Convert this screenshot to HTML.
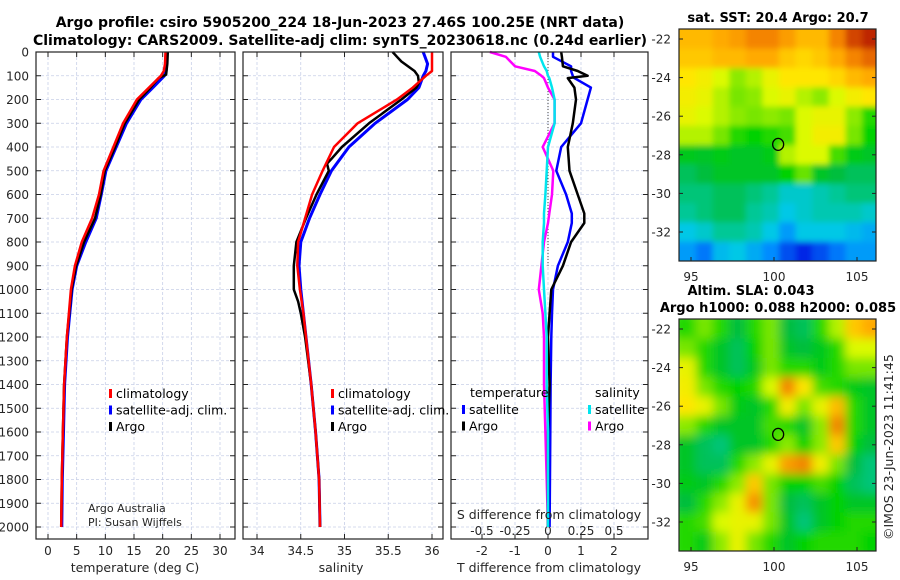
<!DOCTYPE html>
<html><head><meta charset="utf-8"><style>
html,body{margin:0;padding:0;background:#fff;}
svg{display:block;font-family:"DejaVu Sans","Liberation Sans",sans-serif;}
.tk{font-size:12px;fill:#262626;}
.tt{font-size:14px;font-weight:bold;fill:#000;}
.lg{font-size:12.5px;fill:#000;}
</style></head><body>
<svg id="fig" width="900" height="580" viewBox="0 0 900 580" xmlns="http://www.w3.org/2000/svg">
<text class="tt" x="340" y="27" text-anchor="middle">Argo profile: csiro 5905200_224 18-Jun-2023 27.46S 100.25E (NRT data)</text>
<text class="tt" x="340" y="45" text-anchor="middle">Climatology: CARS2009. Satellite-adj clim: synTS_20230618.nc (0.24d earlier)</text>
<g id="g1"></g>
<g id="g2"></g>
<g id="g3"></g>
<g id="m1"></g>
<g id="m2"></g>
<text class="tk" x="88" y="512" style="font-size:11px">Argo Australia</text>
<text class="tk" x="88" y="526" style="font-size:11px">PI: Susan Wijffels</text>
<text class="tk" x="893" y="540" transform="rotate(-90 893 540)" style="font-size:12.5px">©IMOS 23-Jun-2023 11:41:45</text>
</svg>
<script>
// ---------- data ----------
const depthT = [0,50,80,100,150,200,300,400,500,600,700,800,900,1000,1200,1400,1600,1800,2000];
const tClim  = [20.5,20.4,20.2,19.7,17.6,15.5,13.1,11.4,9.7,8.9,7.7,5.9,4.7,4.0,3.3,2.8,2.6,2.4,2.3];
const tSat   = [20.7,20.7,20.6,20.3,18.3,16.2,13.7,11.9,10.1,9.3,8.4,6.6,5.0,4.2,3.4,2.9,2.7,2.5,2.4];
const depthArgoT = [0,50,95,110,150,200,300,400,500,600,700,800,900,1000,1200,1400,1600,1800,2000];
const tArgo  = [20.9,20.8,20.6,19.3,17.9,15.9,13.4,11.7,9.9,9.2,8.2,6.3,4.9,4.1,3.3,2.8,2.6,2.4,2.3];
const depthS = [0,50,80,100,150,200,300,400,500,600,700,800,900,1000,1100,1200,1400,1600,1800,2000];
const sClim  = [36.0,36.0,36.0,35.93,35.78,35.6,35.15,34.88,34.75,34.63,34.55,34.47,34.46,34.49,34.53,34.56,34.62,34.67,34.71,34.72];
const sSat   = [35.9,35.95,35.93,35.9,35.85,35.72,35.35,35.05,34.85,34.72,34.6,34.5,34.48,34.5,34.53,34.56,34.62,34.67,34.71,34.72];
const depthArgoS = [0,20,40,80,100,130,150,200,300,400,450,470,500,600,700,800,900,1000,1050,1100,1200,1400,1600,1800,2000];
const sArgo  = [35.55,35.6,35.65,35.8,35.84,35.85,35.82,35.65,35.28,34.97,34.85,34.8,34.82,34.68,34.56,34.45,34.42,34.42,34.47,34.5,34.55,34.62,34.67,34.71,34.72];
const depthD = [0,20,60,80,100,110,150,200,300,400,500,600,680,720,800,900,1000,1100,1200,1400,1600,2000];
const dTSat  = [0.15,0.15,0.7,0.7,0.75,0.8,1.3,1.2,1.0,0.4,0.25,0.55,0.72,0.72,0.6,0.3,0.15,0.12,0.1,0.08,0.07,0.05];
const dTArgo = [0.4,0.42,0.45,0.9,1.2,0.6,0.8,0.85,0.75,0.6,0.65,0.9,1.1,1.1,0.7,0.45,0.1,0.05,0.0,0.05,0.0,0.0];
const dSSat  = [-0.07,-0.06,-0.03,-0.01,0.0,0.01,0.03,0.05,0.05,0.0,-0.01,-0.02,-0.03,-0.03,-0.04,-0.04,-0.03,-0.02,-0.01,-0.01,0.0,0.0];
const dSArgo = [-0.44,-0.32,-0.25,-0.1,-0.05,-0.03,0.0,0.05,0.05,-0.04,0.04,0.03,0.01,0.0,-0.03,-0.05,-0.07,-0.04,-0.03,-0.03,-0.02,0.0];
const depthTicks = [0,100,200,300,400,500,600,700,800,900,1000,1100,1200,1300,1400,1500,1600,1700,1800,1900,2000];
const tTicks = [0,5,10,15,20,25,30];
const sTicks = [34,34.5,35,35.5,36];
const sTickLabels = ["34","34.5","35","35.5","36"];
const dTTicks = [-2,-1,0,1,2];
const dSTicks = [-0.5,-0.25,0,0.25,0.5];
const dSTickLabels = ["-0.5","-0.25","0","0.25","0.5"];
const lonTicks = [95,100,105];
const latTicks = [-22,-24,-26,-28,-30,-32];
const sstGrid = [
[0.72,0.72,0.74,0.76,0.8,0.8,0.76,0.72,0.72,0.8,0.88,0.92],
[0.7,0.7,0.72,0.72,0.74,0.74,0.7,0.68,0.7,0.74,0.8,0.84],
[0.66,0.64,0.6,0.56,0.58,0.62,0.66,0.66,0.66,0.68,0.72,0.74],
[0.64,0.62,0.58,0.55,0.56,0.6,0.62,0.58,0.56,0.6,0.64,0.66],
[0.62,0.6,0.58,0.56,0.55,0.56,0.55,0.6,0.62,0.62,0.56,0.5],
[0.58,0.58,0.55,0.5,0.48,0.5,0.52,0.6,0.64,0.64,0.55,0.48],
[0.45,0.44,0.46,0.44,0.44,0.46,0.58,0.6,0.6,0.52,0.46,0.44],
[0.4,0.42,0.44,0.44,0.44,0.44,0.48,0.54,0.44,0.42,0.4,0.4],
[0.38,0.38,0.4,0.4,0.38,0.36,0.32,0.32,0.34,0.36,0.38,0.38],
[0.36,0.38,0.4,0.4,0.36,0.34,0.3,0.32,0.34,0.34,0.34,0.32],
[0.3,0.32,0.36,0.36,0.34,0.3,0.24,0.3,0.3,0.3,0.28,0.26],
[0.24,0.2,0.28,0.3,0.26,0.22,0.16,0.12,0.16,0.2,0.24,0.24]];
const slaGrid = [
[0.5,0.55,0.5,0.42,0.5,0.55,0.42,0.4,0.5,0.58,0.7,0.74],
[0.55,0.5,0.44,0.4,0.48,0.55,0.44,0.42,0.45,0.5,0.6,0.6],
[0.62,0.5,0.44,0.4,0.45,0.55,0.5,0.5,0.46,0.5,0.55,0.55],
[0.64,0.55,0.5,0.48,0.5,0.6,0.8,0.66,0.52,0.5,0.46,0.44],
[0.66,0.62,0.55,0.46,0.44,0.5,0.64,0.55,0.62,0.72,0.5,0.44],
[0.56,0.5,0.44,0.44,0.44,0.52,0.5,0.44,0.56,0.8,0.5,0.44],
[0.44,0.4,0.38,0.44,0.44,0.5,0.56,0.48,0.56,0.7,0.48,0.42],
[0.44,0.4,0.4,0.5,0.56,0.62,0.76,0.8,0.64,0.55,0.42,0.38],
[0.46,0.44,0.5,0.56,0.7,0.55,0.48,0.48,0.52,0.48,0.4,0.38],
[0.42,0.5,0.56,0.62,0.78,0.55,0.42,0.4,0.44,0.48,0.44,0.44],
[0.5,0.52,0.6,0.62,0.62,0.55,0.44,0.38,0.44,0.48,0.5,0.5],
[0.5,0.46,0.56,0.62,0.55,0.5,0.44,0.48,0.5,0.5,0.5,0.48]];
const argoLon = 100.25, argoLat = -27.46;

// ---------- helpers ----------
const NS="http://www.w3.org/2000/svg";
function mk(tag, attrs, parent){const e=document.createElementNS(NS,tag);for(const k in attrs)e.setAttribute(k,attrs[k]);parent.appendChild(e);return e;}
const Y0=52, Y1=539;
const yD = d => 52 + d*(527-52)/2000;
const xT = v => 48 + v*(220-48)/30;
const xS = v => 257 + (v-34)*(432-257)/2;
const xDT = v => 548 + v*33;
const xDS = v => 548 + v*132;

function frame(g, x0, x1, leftLabels){
  depthTicks.forEach(d=>{const y=yD(d);
    const l=mk('line',{x1:x0,x2:x1,y1:y,y2:y,stroke:'#c8cfe8','stroke-width':0.8,'stroke-dasharray':'3,2'},g);
    
    
    mk('line',{x1:x0,x2:x0+5,y1:y,y2:y,stroke:'#222'},g);
    mk('line',{x1:x1-5,x2:x1,y1:y,y2:y,stroke:'#222'},g);
    if(leftLabels){const t=mk('text',{x:x0-7,y:y+4.5,'text-anchor':'end',class:'tk'},g);t.textContent=d;
      
      }
  });
}
function xgrid(g, xs, labels, fn, ylab, x0, x1){
  xs.forEach((v,i)=>{const x=fn(v);
    mk('line',{x1:x,x2:x,y1:Y0,y2:Y1,stroke:'#c8cfe8','stroke-width':0.8,'stroke-dasharray':'3,2'},g);
    mk('line',{x1:x,x2:x,y1:Y1-5,y2:Y1,stroke:'#222'},g);
    mk('line',{x1:x,x2:x,y1:Y0,y2:Y0+5,stroke:'#222'},g);
    const t=mk('text',{x:x,y:ylab,'text-anchor':'middle',class:'tk'},g);t.textContent=labels?labels[i]:v;
    
    
  });
}
function border(g,x0,x1){const r=mk('rect',{x:x0,y:Y0,width:x1-x0,height:Y1-Y0,fill:'none',stroke:'#222','stroke-width':1.2},g);
  
  }
function line(g, vals, depths, fx, color, w, name){
  const pts=vals.map((v,i)=>fx(v).toFixed(1)+','+yD(depths[i]).toFixed(1)).join(' ');
  const p=mk('polyline',{points:pts,fill:'none',stroke:color,'stroke-width':w,'stroke-linejoin':'round'},g);
  
  
}
function legend(g,x,y,items){
  items.forEach((it,i)=>{const yy=y+i*16.5;
    mk('rect',{x:x,y:yy-8,width:3,height:9,fill:it[0]},g);
    const t=mk('text',{x:x+7,y:yy+1,class:'lg'},g);t.textContent=it[1];
    
    });
}
function label(g,x,y,txt,name){const t=mk('text',{x:x,y:y,'text-anchor':'middle',class:'tk',style:'font-size:12.5px'},g);t.textContent=txt;
  
  }

// panel 1
const g1=document.getElementById('g1');
frame(g1,36,235,true); xgrid(g1,tTicks,null,xT,555,36,235);
line(g1,tSat,depthT,xT,'#0000ff',3,'sat-adj-temperature-line');
line(g1,tArgo,depthArgoT,xT,'#000',2.5,'argo-temperature-line');
line(g1,tClim,depthT,xT,'#ff0000',2.5,'climatology-temperature-line');
border(g1,36,235);
legend(g1,109,397,[['#ff0000','climatology'],['#0000ff','satellite-adj. clim.'],['#000','Argo']]);
label(g1,135,572,'temperature (deg C)','x-axis-title-temperature');

// panel 2
const g2=document.getElementById('g2');
frame(g2,243,443,false); xgrid(g2,sTicks,sTickLabels,xS,555,243,443);
line(g2,sSat,depthS,xS,'#0000ff',3,'sat-adj-salinity-line');
line(g2,sArgo,depthArgoS,xS,'#000',2.5,'argo-salinity-line');
line(g2,sClim,depthS,xS,'#ff0000',2.5,'climatology-salinity-line');
border(g2,243,443);
legend(g2,331,397,[['#ff0000','climatology'],['#0000ff','satellite-adj. clim.'],['#000','Argo']]);
label(g2,341,572,'salinity','x-axis-title-salinity');

// panel 3
const g3=document.getElementById('g3');
frame(g3,451,648,false); xgrid(g3,dTTicks,null,xDT,555,451,648);
dSTicks.forEach((v,i)=>{const t=mk('text',{x:xDS(v),y:535,'text-anchor':'middle',class:'tk'},g3);t.textContent=dSTickLabels[i];
  
  });
mk('line',{x1:xDT(0),x2:xDT(0),y1:Y0,y2:yD(900),stroke:'#444','stroke-width':1,'stroke-dasharray':'1,2'},g3);
line(g3,dSArgo,depthD,xDS,'#ff00ff',2.5,'argo-salinity-diff-line');
line(g3,dTSat,depthD,xDT,'#0000ff',2.5,'sat-temperature-diff-line');
line(g3,dTArgo,depthD,xDT,'#000',2.5,'argo-temperature-diff-line');
line(g3,dSSat,depthD,xDS,'#00e5ee',2.5,'sat-salinity-diff-line');
border(g3,451,648);
label(g3,549,519,'S difference from climatology','s-diff-axis-title');
label(g3,549,572,'T difference from climatology','t-diff-axis-title');
{const t=mk('text',{x:470,y:397,class:'lg'},g3);t.textContent='temperature';}
{const t=mk('text',{x:595,y:397,class:'lg'},g3);t.textContent='salinity';}
legend(g3,462,413,[['#0000ff','satellite'],['#000','Argo']]);
legend(g3,588,413,[['#00e5ee','satellite'],['#ff00ff','Argo']]);

// maps
const cmapStops=[[0,0,0,130],[0.12,0,40,230],[0.22,0,140,255],[0.3,0,200,230],[0.36,0,200,150],[0.42,0,190,60],[0.48,0,210,0],[0.55,120,230,0],[0.6,220,250,0],[0.66,255,230,0],[0.74,255,170,0],[0.82,240,120,0],[0.9,200,50,0],[1,150,0,0]];
function cmap(v){v=Math.max(0,Math.min(1,v));
  for(let i=1;i<cmapStops.length;i++){const a=cmapStops[i-1],b=cmapStops[i];
    if(v<=b[0]){const t=(v-a[0])/(b[0]-a[0]);return `rgb(${Math.round(a[1]+t*(b[1]-a[1]))},${Math.round(a[2]+t*(b[2]-a[2]))},${Math.round(a[3]+t*(b[3]-a[3]))})`;}}
  return 'rgb(150,0,0)';}
const defs=mk('defs',{},document.getElementById('fig'));
const f=mk('filter',{id:'bl',x:'-5%',y:'-5%',width:'110%',height:'110%'},defs);
mk('feGaussianBlur',{stdDeviation:5},f);
const f2=mk('filter',{id:'bl2',x:'-5%',y:'-5%',width:'110%',height:'110%'},defs);
mk('feGaussianBlur',{stdDeviation:3},f2);
function map(id, grid, top, y22, y32, title1, title2, blur){
  const g=document.getElementById(id);
  const X0=679,X1=876,bot=top+232;
  const xL=v=>774+(v-100)*16.6, yL=v=>y22+(v+22)*(y32-y22)/(-10);
  const cp=mk('clipPath',{id:'cp'+id},defs); mk('rect',{x:X0,y:top,width:X1-X0,height:bot-top},cp);
  const cg=mk('g',{'clip-path':`url(#cp${id})`},g);
  const ig=mk('g',{filter:blur?'url(#bl)':'url(#bl2)'},cg);
  const pad=8;
  grid.forEach((row,r)=>row.forEach((v,c)=>{
    const lon0=94.3+c, lat0=-21.5-r;
    const x=xL(lon0)-(c===0?pad:0), y=yL(lat0)-(r===0?pad:0);
    const w=xL(lon0+1)-xL(lon0)+0.6+(c===0?pad:0)+(c===row.length-1?pad:0);
    const h=yL(lat0-1)-yL(lat0)+0.6+(r===0?pad:0)+(r===grid.length-1?pad:0);
    const cell=mk('rect',{x:x.toFixed(1),y:y.toFixed(1),width:w.toFixed(1),height:h.toFixed(1),fill:cmap(v)},ig);
    
    
  }));
  const c=mk('ellipse',{cx:xL(argoLon),cy:yL(argoLat),rx:5.5,ry:6,fill:'none',stroke:'#000','stroke-width':1.3},g);
  
  
  const b=mk('rect',{x:X0,y:top,width:X1-X0,height:bot-top,fill:'none',stroke:'#222','stroke-width':1.2},g);
  
  
  latTicks.forEach(v=>{const y=yL(v);mk('line',{x1:X0,x2:X0+4,y1:y,y2:y,stroke:'#222'},g);mk('line',{x1:X1-4,x2:X1,y1:y,y2:y,stroke:'#222'},g);
    const t=mk('text',{x:X0-8,y:y+4.5,'text-anchor':'end',class:'tk'},g);t.textContent=v;
    
    });
  lonTicks.forEach(v=>{const x=xL(v);mk('line',{x1:x,x2:x,y1:bot-4,y2:bot,stroke:'#222'},g);
    const t=mk('text',{x:x,y:bot+20,'text-anchor':'middle',class:'tk'},g);t.textContent=v;
    
    });
  title1&&(()=>{const t=mk('text',{x:title1[1],y:title1[2],'text-anchor':'middle',class:'tt',style:'font-size:13px'},g);t.textContent=title1[0];})();
  title2&&(()=>{const t=mk('text',{x:title2[1],y:title2[2],'text-anchor':'middle',class:'tt',style:'font-size:13px'},g);t.textContent=title2[0];})();
}
map('m1',sstGrid,29,39,232,['sat. SST: 20.4 Argo: 20.7',778,22],null,false);
map('m2',slaGrid,319,329,522,['Altim. SLA: 0.043',751,295],['Argo h1000: 0.088 h2000: 0.085',778,312],true);
</script>
</body></html>
